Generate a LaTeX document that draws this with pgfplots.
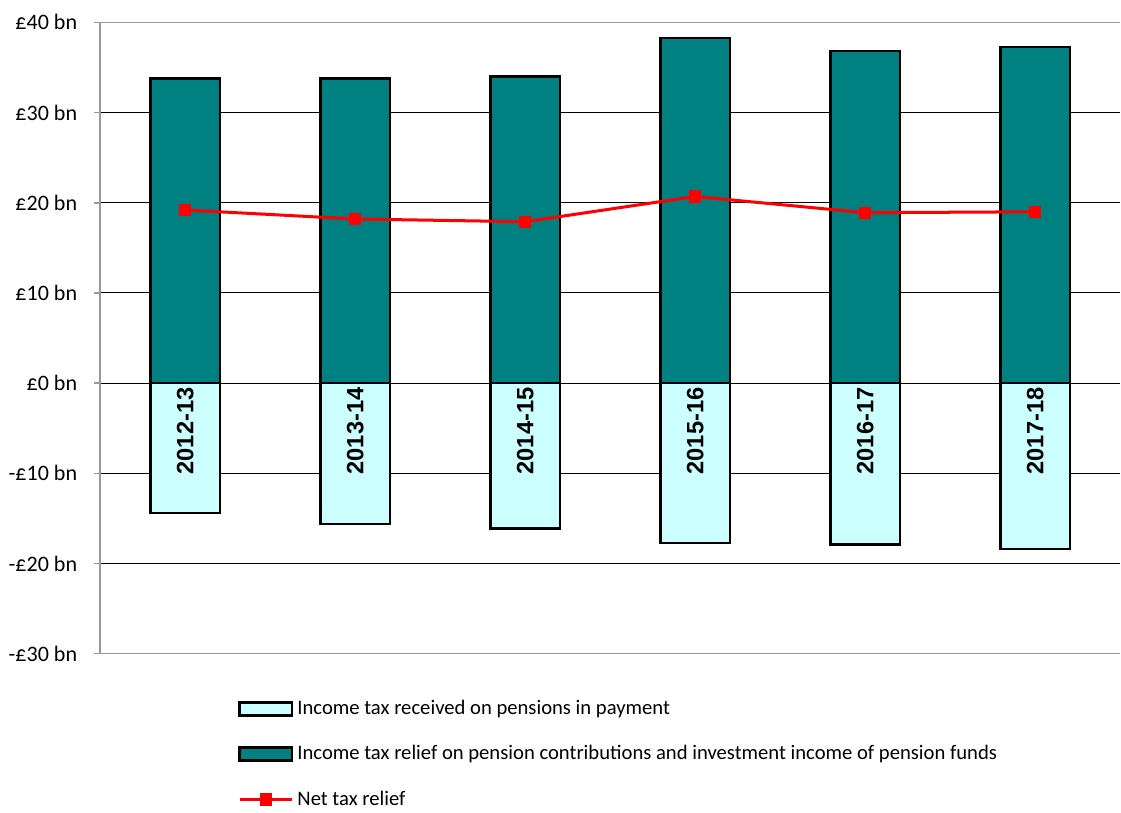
\documentclass[border={1pt 0pt 0pt 4pt}]{standalone}
\usepackage{pgfplots}
\pgfplotsset{compat=1.18}
\usepackage{fontspec}
\setmainfont{Carlito}
\newfontfamily\arialfont{Liberation Sans}
\definecolor{tealbar}{RGB}{0,128,128}
\definecolor{lcyan}{RGB}{204,255,255}
\definecolor{netred}{RGB}{255,0,0}
\pgfplotsset{
  cyanlegend/.style={legend image code/.code={\draw[fill=lcyan, draw=black, line width=1.4pt] (0pt,-3.25pt) rectangle (26pt,3.25pt);}},
  teallegend/.style={legend image code/.code={\draw[fill=tealbar, draw=black, line width=1.4pt] (0pt,-3.25pt) rectangle (26pt,3.25pt);}},
  netlegend/.style={legend image code/.code={\draw[netred, line width=1.5pt] (0pt,0pt) -- (26pt,0pt); \fill[netred] (10.7pt,-2.3pt) rectangle (15.3pt,2.3pt);}},
}
\pgfplotstableread[row sep=\\]{
x y label\\
0 0 2012-13\\
1 0 2013-14\\
2 0 2014-15\\
3 0 2015-16\\
4 0 2016-17\\
5 0 2017-18\\
}\yearlabels
\begin{document}
\begin{tikzpicture}
\begin{axis}[
  scale only axis, width=509pt, height=315pt,
  xmin=-0.5, xmax=5.5, ymin=-30, ymax=40,
  ytick={-30,-20,...,40},
  yticklabels={-£30 bn,-£20 bn,-£10 bn,£0 bn,£10 bn,£20 bn,£30 bn,£40 bn},
  xtick=\empty,
  yticklabel style={font=\fontsize{11}{13}\selectfont, xshift=-5pt},
  ymajorgrids, grid style={black, line width=0.5pt},
  axis y line*=left,
  axis line style={gray!80, line width=0.8pt},
  ytick style={gray!80, line width=0.8pt},
  tick align=outside, major tick length=3pt,
  legend cell align=left,
  legend style={at={(axis description cs:0.135,0)}, anchor=north west, yshift=-21pt,
    draw=none, fill=none, font=\fontsize{10.3}{12}\selectfont, row sep=10pt, inner sep=0pt},
]
\addplot[ybar, bar width=34.5pt, bar shift=0pt, fill=lcyan, draw=black, line width=1.2pt, cyanlegend]
  coordinates {(0,-14.4) (1,-15.6) (2,-16.1) (3,-17.7) (4,-17.9) (5,-18.4)};
\addlegendentry{Income tax received on pensions in payment}
\addplot[ybar, bar width=34.5pt, bar shift=0pt, fill=tealbar, draw=black, line width=1.2pt, teallegend]
  coordinates {(0,33.8) (1,33.8) (2,34.0) (3,38.3) (4,36.8) (5,37.3)};
\addlegendentry{Income tax relief on pension contributions and investment income of pension funds}
\addplot[netred, line width=1.5pt, mark=square*, mark size=2.3pt, mark options={solid, fill=netred}, netlegend]
  coordinates {(0,19.2) (1,18.2) (2,17.9) (3,20.7) (4,18.9) (5,19.0)};
\addlegendentry{Net tax relief}
\addplot[draw=none, mark=none, forget plot, nodes near coords, point meta=explicit symbolic,
  nodes near coords style={rotate=90, anchor=east, inner sep=2pt, text=black, font=\arialfont\bfseries\fontsize{11.8}{13}\selectfont}]
  table[x=x, y=y, meta=label] {\yearlabels};
\end{axis}
\end{tikzpicture}
\end{document}
